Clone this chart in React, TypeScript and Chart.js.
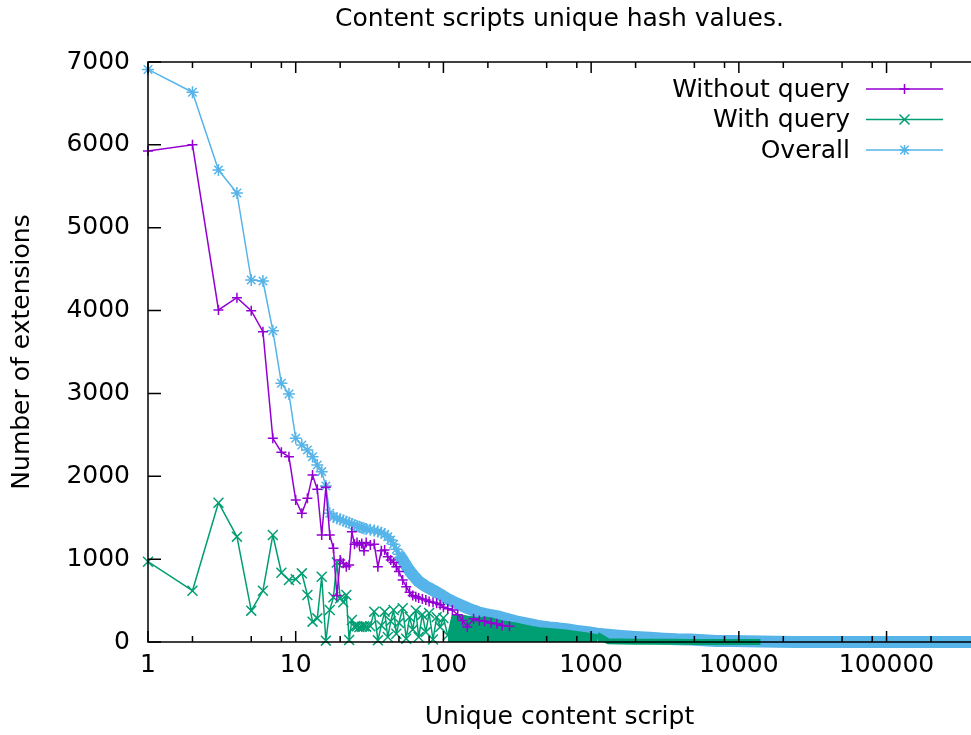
import React, { useEffect, useRef } from 'react';
import { Chart, registerables } from 'chart.js';

Chart.register(...registerables);

const FONT_FAMILY = 'DejaVu Sans';
const TITLE = 'Content scripts unique hash values.';
const X_TITLE = 'Unique content script';
const Y_TITLE = 'Number of extensions';
const SERIES_LABELS = ['Without query', 'With query', 'Overall'];
const SERIES_COLORS = ['#9400D3', '#009E73', '#56B4E9'];
const SERIES_MARKERS = ['cross', 'crossRot', 'star'];

const xValues = [
  1, 2, 3, 4, 5, 6, 7, 8, 9, 10,
  11, 12, 13, 14, 15, 16, 17, 18, 19, 20,
  21, 22, 23, 24, 25, 26, 27, 28, 29, 30,
  32, 34, 36, 38, 40, 42, 44, 46, 48, 50,
  53, 56, 59, 62, 65, 68, 72, 76, 80, 85,
  90, 95, 100, 107, 115, 125, 135, 145, 160, 175,
  190, 210, 230, 250, 280, 310, 350, 400, 450, 520,
  600, 700, 800, 950, 1100, 1300, 1600, 2000, 2500, 3100,
  3800, 4700, 5800, 7000, 9000, 11000, 14000, 18000, 25000, 35000,
  50000, 70000, 100000, 140000, 200000, 280000, 373000,
];

const withoutQuery = [
  5926, 6000, 4007, 4156, 3999, 3745, 2458, 2290, 2237, 1714,
  1553, 1734, 2016, 1843, 1291, 1867, 1291, 1131, 560, 990,
  950, 909, 930, 1331, 1180, 1200, 1170, 1190, 1100, 1200,
  1170, 1180, 909, 1100, 1110, 1030, 990, 960, 909, 850,
  748, 667, 600, 560, 547, 530, 520, 507, 490, 480,
  467, 450, 420, 400, 386, 330, 260, 180, 280, 260,
  250, 230, 220, 200, 190, null, null, null, null, null,
  null, null, null, null, null, null, null, null, null, null,
  null, null, null, null, null, null, null, null, null, null,
  null, null, null, null, null, null, null,
];

const withQuery = [
  969, 619, 1681, 1271, 378, 619, 1291, 836, 748, 757,
  829, 567, 245, 286, 788, 16, 386, 540, 960, 527,
  480, 567, 24, 265, 185, 190, 180, 185, 190, 185,
  190, 366, 20, 200, 366, 60, 250, 386, 100, 230,
  407, 40, 300, 150, 380, 60, 330, 120, 350, 30,
  300, 180, 290, 80, 330, 330, 320, 310, 300, 290,
  300, 290, 270, 255, 240, 225, 205, 185, 170, 160,
  150, 140, 125, 105, 85, 10, 5, 3, 2, 2,
  2, 1, 1, 1, 1, 1, 1, null, null, null,
  null, null, null, null, null, null, null,
];

const overall = [
  6910, 6635, 5696, 5419, 4369, 4357, 3757, 3122, 2993, 2458,
  2378, 2317, 2237, 2137, 2056, 1883, 1553, 1510, 1495, 1480,
  1465, 1450, 1440, 1425, 1410, 1400, 1390, 1380, 1370, 1365,
  1355, 1345, 1335, 1320, 1300, 1270, 1230, 1180, 1120, 1060,
  990, 920, 860, 810, 770, 730, 700, 670, 650, 625,
  600, 575, 550, 520, 490, 460, 435, 410, 380, 355,
  340, 325, 312, 295, 270, 250, 232, 210, 190, 175,
  165, 150, 135, 118, 100, 88, 74, 62, 50, 40,
  33, 30, 20, 12, 12, 10, 5, 2, 1, 1,
  1, 1, 1, 1, 1, 1, 1,
];

const xMajorTicks = [1, 10, 100, 1000, 10000, 100000];
const xMinorMultipliers = [2, 5, 8];
const X_MIN = 1;
const X_MAX = 373000;
const Y_MIN = 0;
const Y_MAX = 7000;
const Y_STEP = 1000;

function drawMarker(ctx: CanvasRenderingContext2D, style: string, x: number, y: number) {
  ctx.beginPath();
  if (style === 'cross' || style === 'star') {
    const r = 5;
    ctx.moveTo(x - r, y); ctx.lineTo(x + r, y);
    ctx.moveTo(x, y - r); ctx.lineTo(x, y + r);
  }
  if (style === 'crossRot' || style === 'star') {
    const r = style === 'star' ? 4.2 : 5;
    ctx.moveTo(x - r, y - r); ctx.lineTo(x + r, y + r);
    ctx.moveTo(x - r, y + r); ctx.lineTo(x + r, y - r);
  }
  ctx.stroke();
}

const framePlugin = {
  id: 'gnuFrame',
  afterDatasetsDraw(chart: any) {
    const { ctx, chartArea: a, scales } = chart;
    const xs = scales.x;
    const ys = scales.y;
    ctx.save();
    ctx.strokeStyle = '#000';
    ctx.lineWidth = 1.5;
    ctx.beginPath();
    ctx.moveTo(a.right + 2, a.top);
    ctx.lineTo(a.left, a.top);
    ctx.lineTo(a.left, a.bottom);
    ctx.lineTo(a.right + 2, a.bottom);
    ctx.stroke();
    ctx.beginPath();
    for (const v of xMajorTicks) {
      const px = xs.getPixelForValue(v);
      ctx.moveTo(px, a.bottom); ctx.lineTo(px, a.bottom - 11);
      ctx.moveTo(px, a.top); ctx.lineTo(px, a.top + 11);
      for (const m of xMinorMultipliers) {
        const mv = v * m;
        if (mv > X_MAX) continue;
        const mp = xs.getPixelForValue(mv);
        ctx.moveTo(mp, a.bottom); ctx.lineTo(mp, a.bottom - 6);
        ctx.moveTo(mp, a.top); ctx.lineTo(mp, a.top + 6);
      }
    }
    for (let v = Y_MIN; v <= Y_MAX; v += Y_STEP) {
      const py = ys.getPixelForValue(v);
      ctx.moveTo(a.left, py); ctx.lineTo(a.left + 13, py);
    }
    ctx.stroke();
    ctx.restore();
  },
  afterDraw(chart: any) {
    const { ctx, chartArea: a } = chart;
    ctx.save();
    ctx.font = `25px "${FONT_FAMILY}"`;
    ctx.textAlign = 'right';
    ctx.textBaseline = 'middle';
    chart.data.datasets.forEach((ds: any, i: number) => {
      const y = a.top + 27 + i * 30.5;
      ctx.fillStyle = '#000';
      ctx.fillText(ds.label, a.right - 121, y + 1);
      ctx.strokeStyle = ds.borderColor;
      ctx.lineWidth = 1.5;
      ctx.beginPath();
      ctx.moveTo(a.right - 105, y);
      ctx.lineTo(a.right - 28, y);
      ctx.stroke();
      drawMarker(ctx, SERIES_MARKERS[i], a.right - 66.5, y);
    });
    ctx.restore();
  },
};

const toPoints = (ys: (number | null)[]) => xValues.map((x, i) => ({ x, y: ys[i] }));

export default function App() {
  const canvasRef = useRef<HTMLCanvasElement | null>(null);

  useEffect(() => {
    const canvas = canvasRef.current;
    if (!canvas) return;
    Chart.defaults.font.family = FONT_FAMILY;
    Chart.defaults.font.size = 25;
    Chart.defaults.color = '#000';

    const chart = new Chart(canvas, {
      type: 'line',
      data: {
        datasets: [
          {
            label: SERIES_LABELS[0],
            data: toPoints(withoutQuery),
            borderColor: SERIES_COLORS[0],
            backgroundColor: SERIES_COLORS[0],
            borderWidth: 1.5,
            pointStyle: SERIES_MARKERS[0],
            pointRadius: 5,
            pointBorderWidth: 1.5,
            pointBorderColor: SERIES_COLORS[0],
            fill: false,
            spanGaps: false,
            order: 0,
            clip: 8,
          },
          {
            label: SERIES_LABELS[1],
            data: toPoints(withQuery),
            borderColor: SERIES_COLORS[1],
            backgroundColor: SERIES_COLORS[1],
            borderWidth: 1.5,
            pointStyle: SERIES_MARKERS[1],
            pointRadius: (c: any) => (c.raw && c.raw.x < 115 ? 7 : 0),
            pointBorderWidth: 1.5,
            pointBorderColor: SERIES_COLORS[1],
            fill: 'origin',
            spanGaps: false,
            borderJoinStyle: 'round',
            segment: {
              backgroundColor: (c: any) => (c.p0.parsed.x >= 107 ? SERIES_COLORS[1] : 'rgba(0,0,0,0)'),
              borderWidth: (c: any) => (c.p0.parsed.x >= 1100 ? 6 : 1.5),
            },
            order: 1,
            clip: 8,
          },
          {
            label: SERIES_LABELS[2],
            data: toPoints(overall),
            borderColor: SERIES_COLORS[2],
            backgroundColor: SERIES_COLORS[2],
            borderWidth: 1.5,
            pointStyle: SERIES_MARKERS[2],
            pointRadius: (c: any) => (c.raw && c.raw.x <= 100 ? 6 : 0),
            pointBorderWidth: 1.5,
            pointBorderColor: SERIES_COLORS[2],
            fill: false,
            borderJoinStyle: 'round',
            segment: {
              borderWidth: (c: any) => (c.p0.parsed.x >= 50 ? 12 : 1.5),
            },
            order: 2,
            clip: 8,
          },
        ],
      },
      options: {
        animation: false,
        responsive: false,
        devicePixelRatio: 1,
        events: [],
        layout: { padding: 0, autoPadding: false },
        plugins: {
          legend: { display: false },
          tooltip: { enabled: false },
          title: {
            display: true,
            text: TITLE,
            fullSize: false,
            color: '#000',
            font: { size: 25, weight: 'normal', family: FONT_FAMILY },
            padding: { top: 4, bottom: 28 },
          },
        },
        scales: {
          x: {
            type: 'logarithmic',
            min: X_MIN,
            max: X_MAX,
            afterBuildTicks: (s: any) => {
              s.ticks = xMajorTicks.map((v) => ({ value: v }));
            },
            afterFit: (s: any) => {
              s.height = 93;
              s.paddingLeft = 0;
              s.paddingRight = 0;
            },
            ticks: {
              callback: (v: any) => String(v),
              autoSkip: false,
              maxRotation: 0,
              padding: 8,
              color: '#000',
              font: { size: 25, family: FONT_FAMILY },
            },
            grid: { display: false, drawTicks: false },
            border: { display: false },
            title: {
              display: true,
              text: X_TITLE,
              color: '#000',
              font: { size: 25, family: FONT_FAMILY },
              padding: { top: 0, bottom: 3 },
            },
          },
          y: {
            type: 'linear',
            min: Y_MIN,
            max: Y_MAX,
            afterFit: (s: any) => {
              s.width = 148;
              s.paddingTop = 0;
              s.paddingBottom = 0;
            },
            ticks: {
              stepSize: Y_STEP,
              callback: (v: any) => String(v),
              padding: 18,
              color: '#000',
              font: { size: 25, family: FONT_FAMILY },
            },
            grid: { display: false, drawTicks: false },
            border: { display: false },
            title: {
              display: true,
              text: Y_TITLE,
              color: '#000',
              font: { size: 25, family: FONT_FAMILY },
              padding: { top: 7, bottom: 0 },
            },
          },
        },
      },
      plugins: [framePlugin],
    } as any);

    return () => chart.destroy();
  }, []);

  return (
    <div style={{ position: 'absolute', left: 0, top: 0, width: 971, height: 735, background: '#fff' }}>
      <canvas ref={canvasRef} width={971} height={735} style={{ display: 'block', width: 971, height: 735 }} />
    </div>
  );
}
